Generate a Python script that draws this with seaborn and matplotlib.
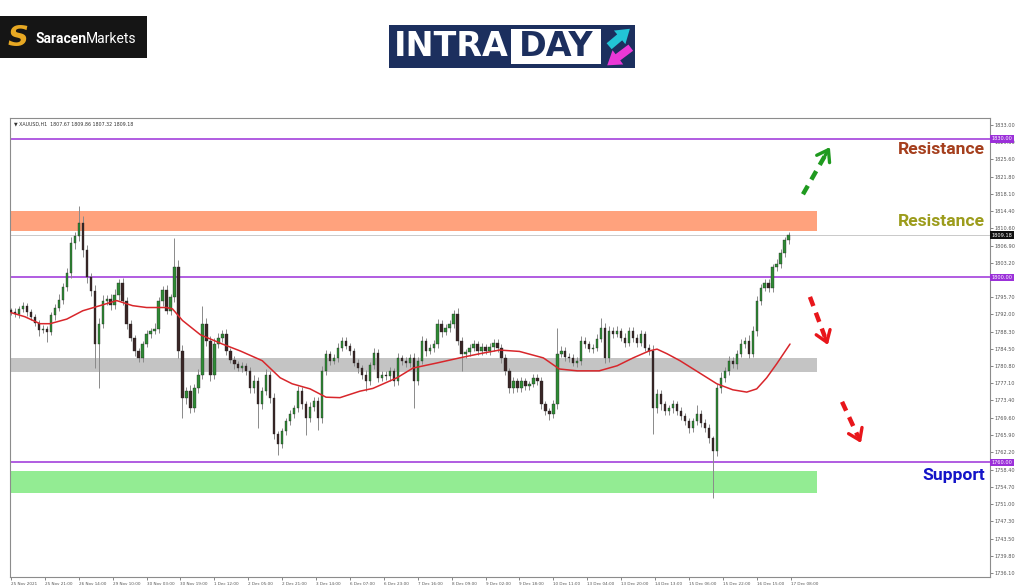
import matplotlib
matplotlib.use("Agg")
import matplotlib.pyplot as plt
from matplotlib.patches import Rectangle, FancyArrowPatch
import numpy as np
import pandas as pd
import seaborn as sns

W, H = 1024, 587

first_open = 1792.9
closes = [
    1792.5, 1792.0, 1793.2, 1793.9, 1792.6, 1791.4, 1790.2, 1788.6, 1788.9, 1788.2,
    1791.8, 1793.5, 1795.2, 1798.0, 1801.0, 1807.4, 1808.9, 1811.7, 1805.9, 1800.0,
    1797.0, 1785.6, 1790.0, 1795.0, 1795.4, 1794.0, 1796.2, 1798.7, 1795.0, 1790.0,
    1787.0, 1784.0, 1782.6, 1785.6, 1787.8, 1788.5, 1788.9, 1795.0, 1797.2, 1792.8,
    1795.7, 1802.2, 1784.1, 1773.9, 1775.4, 1771.7, 1776.0, 1779.0, 1790.0, 1786.3,
    1779.0, 1785.6, 1787.0, 1787.8, 1784.1, 1782.2, 1781.3, 1780.4, 1780.9, 1779.8,
    1776.0, 1777.6, 1772.6, 1775.4, 1779.0, 1774.0, 1766.1, 1763.9, 1766.7, 1768.9,
    1770.4, 1771.7, 1775.4, 1772.6, 1769.6, 1772.0, 1773.3, 1769.6, 1779.8, 1783.5,
    1781.9, 1782.6, 1784.8, 1786.3, 1785.2, 1784.1, 1781.6, 1780.4, 1779.0, 1777.6,
    1781.0, 1783.7, 1778.3, 1779.0, 1778.6, 1779.8, 1777.6, 1782.6, 1782.0, 1781.4,
    1782.6, 1777.6, 1782.0, 1786.3, 1784.1, 1784.8, 1785.6, 1790.0, 1788.2, 1789.1,
    1790.0, 1792.2, 1786.3, 1783.5, 1783.9, 1784.8, 1785.6, 1784.1, 1785.0, 1784.1,
    1784.9, 1785.9, 1784.8, 1782.6, 1779.8, 1776.0, 1777.6, 1776.0, 1777.6, 1776.5,
    1777.0, 1778.3, 1777.6, 1772.6, 1771.1, 1770.4, 1772.6, 1783.5, 1784.1, 1782.9,
    1782.6, 1781.6, 1782.0, 1786.3, 1785.6, 1784.5, 1784.8, 1786.7, 1789.1, 1782.6,
    1788.5, 1787.8, 1788.4, 1787.0, 1785.9, 1788.5, 1786.9, 1785.9, 1787.8, 1784.8,
    1784.1, 1771.7, 1774.8, 1772.6, 1771.1, 1771.7, 1772.6, 1771.1, 1770.0, 1768.9,
    1767.4, 1768.9, 1770.4, 1768.6, 1767.4, 1765.2, 1762.4, 1776.0, 1778.3, 1779.8,
    1782.0, 1781.3, 1783.5, 1785.6, 1786.3, 1783.5, 1788.5, 1795.0, 1797.8, 1798.7,
    1797.8, 1802.2, 1803.0, 1805.2, 1808.0, 1809.18,
]
wick_up = [
    0.6, 0.8, 0.7, 0.9, 0.5, 0.6, 0.7, 0.5, 0.9, 0.6,
    0.8, 0.7, 1.2, 0.9, 1.0, 1.3, 1.0, 3.7, 1.5, 1.2,
    1.0, 1.4, 1.2, 1.1, 0.8, 1.0, 1.3, 0.9, 1.1, 0.7,
    0.9, 0.6, 0.8, 0.7, 0.9, 0.6, 1.2, 0.8, 0.9, 1.1,
    0.8, 6.3, 1.5, 1.2, 1.0, 1.4, 0.9, 1.1, 3.9, 1.2,
    1.0, 1.3, 0.9, 0.8, 1.1, 0.7, 0.9, 0.6, 0.8, 0.7,
    0.9, 1.2, 0.8, 1.0, 1.3, 0.7, 0.9, 0.6, 0.8, 0.7,
    0.9, 0.8, 1.2, 0.9, 0.7, 1.0, 0.8, 0.9, 1.1, 0.8,
    0.7, 0.9, 1.0, 0.8, 0.9, 0.7, 0.6, 0.8, 0.7, 0.9,
    0.8, 1.1, 0.9, 0.7, 0.8, 0.9, 0.6, 1.0, 0.7, 0.8,
    0.9, 1.0, 0.8, 1.1, 0.7, 0.9, 0.8, 1.0, 0.8, 0.9,
    0.7, 0.8, 1.1, 0.9, 0.7, 0.8, 0.9, 0.6, 0.8, 0.7,
    0.9, 0.8, 0.7, 0.9, 0.8, 0.6, 0.9, 0.7, 0.8, 0.6,
    0.7, 0.9, 0.8, 0.9, 0.7, 0.6, 0.8, 5.6, 1.0, 0.8,
    0.7, 0.9, 0.8, 1.0, 0.8, 0.7, 0.9, 1.0, 2.2, 1.1,
    0.9, 0.8, 1.0, 0.7, 0.9, 0.8, 0.7, 0.9, 0.8, 0.7,
    0.8, 1.2, 1.0, 0.9, 0.7, 0.8, 0.9, 0.7, 0.8, 0.6,
    0.7, 0.8, 2.1, 0.9, 0.7, 0.8, 0.6, 1.0, 1.2, 0.9,
    1.1, 0.8, 0.9, 1.0, 0.8, 1.2, 1.1, 0.9, 0.8, 1.0,
    0.9, 0.8, 1.0, 0.9, 0.8, 0.7,
]
wick_dn = [
    0.7, 0.6, 0.8, 0.6, 0.9, 0.7, 0.8, 1.2, 0.6, 2.1,
    0.7, 0.9, 0.8, 1.0, 0.9, 1.1, 1.2, 1.0, 1.4, 1.3,
    1.1, 5.2, 9.6, 1.0, 0.9, 1.1, 0.8, 1.0, 0.9, 1.2,
    0.8, 1.0, 0.9, 0.8, 0.7, 1.0, 0.8, 0.9, 1.1, 0.8,
    0.9, 1.0, 1.6, 4.3, 1.2, 1.0, 0.9, 1.1, 1.0, 1.2,
    1.4, 0.9, 0.8, 1.0, 0.9, 0.8, 1.0, 0.7, 0.9, 0.8,
    1.1, 0.9, 5.2, 1.0, 0.8, 1.2, 1.0, 2.2, 0.9, 0.8,
    0.8, 0.7, 0.9, 1.0, 3.6, 0.8, 0.9, 2.6, 1.0, 0.9,
    0.8, 0.7, 0.9, 0.8, 0.7, 0.9, 0.8, 1.0, 0.9, 2.1,
    0.8, 0.9, 1.0, 0.8, 0.7, 0.9, 1.1, 0.8, 0.9, 0.7,
    0.8, 5.9, 0.9, 0.8, 1.0, 0.7, 0.9, 0.8, 1.0, 0.7,
    0.8, 0.9, 1.0, 3.7, 0.9, 0.8, 0.7, 0.9, 0.8, 0.7,
    0.8, 0.7, 0.9, 1.0, 0.8, 1.1, 0.9, 0.8, 0.7, 0.9,
    0.8, 0.7, 0.9, 1.0, 0.8, 1.2, 0.9, 1.0, 0.8, 0.9,
    0.8, 0.7, 0.9, 1.0, 0.8, 0.7, 0.9, 0.8, 0.7, 1.0,
    0.8, 0.9, 0.7, 0.8, 0.9, 0.7, 0.8, 0.9, 0.7, 0.8,
    0.9, 5.6, 1.0, 1.2, 0.9, 0.8, 1.0, 0.9, 0.8, 0.9,
    1.0, 0.8, 0.9, 1.0, 0.9, 1.1, 10.2, 1.0, 0.9, 1.0,
    0.8, 0.9, 1.0, 0.8, 0.9, 1.0, 0.8, 1.1, 0.9, 0.8,
    1.0, 0.9, 0.8, 0.9, 0.8, 0.7,
]

# moving average (red line), hourly bar index -> price
ma_bars = [0, 7, 14.5, 19.6, 28, 36, 44.6, 53, 61, 68, 78, 81, 86, 95, 106, 115,
           126, 135, 141, 150, 158, 165, 175, 181.5, 193.6, 201.6, 213.6, 225,
           235, 245, 255, 267, 275, 284, 295, 304, 312, 320, 324, 329, 335.5,
           345.5, 354, 362, 369, 374, 379, 384, 390.7]
ma_values = [1792.4, 1791.5, 1790.0, 1790.0, 1791.0, 1792.8, 1793.9, 1795.0, 1793.9,
             1793.5, 1793.5, 1793.2, 1790.7, 1787.6, 1785.6, 1784.1, 1782.0, 1778.3,
             1777.0, 1775.9, 1774.1, 1774.0, 1775.4, 1776.0, 1778.3, 1780.4, 1781.5,
             1782.6, 1783.5, 1784.3, 1784.0, 1782.6, 1780.2, 1779.8, 1779.8, 1780.9,
             1782.6, 1784.1, 1784.5, 1783.5, 1782.0, 1779.3, 1777.0, 1775.7, 1775.2,
             1775.9, 1778.3, 1781.3, 1785.6]

level_prices = [1830.0, 1800.0, 1760.0]
last_price = 1809.18
zone_low = [1810.1, 1779.6, 1753.4]
zone_high = [1814.4, 1782.6, 1758.2]
zone_colors = ["#ffa27d", "#c4c4c4", "#93ec93"]
zone_end = 404

ytick_values = [1736.10, 1739.80, 1743.50, 1747.30, 1751.00, 1754.70, 1758.40,
                1762.20, 1765.90, 1769.60, 1773.40, 1777.10, 1780.80, 1784.50,
                1788.30, 1792.00, 1795.70, 1803.20, 1806.90, 1810.60,
                1814.40, 1818.10, 1821.80, 1825.60, 1829.30, 1833.00]
xtick_labels = ["25 Nov 2021", "25 Nov 21:00", "26 Nov 14:00", "29 Nov 10:00",
                "30 Nov 03:00", "30 Nov 19:00", "1 Dec 12:00", "2 Dec 05:00",
                "2 Dec 21:00", "3 Dec 14:00", "6 Dec 07:00", "6 Dec 23:00",
                "7 Dec 16:00", "8 Dec 09:00", "9 Dec 02:00", "9 Dec 18:00",
                "10 Dec 11:00", "13 Dec 04:00", "13 Dec 20:00", "14 Dec 13:00",
                "15 Dec 06:00", "15 Dec 22:00", "16 Dec 15:00", "17 Dec 08:00"]

# annotation arrows: (bar, price) start -> tip
arrows = [("#1f9a1f", (397.2, 1818.0), (410.7, 1828.2)),
          ("#e8161b", (400.7, 1795.8), (409.7, 1785.4)),
          ("#e8161b", (416.8, 1773.1), (426.3, 1764.2))]
labels = [("Resistance", 1827.6, "#a53f1d"),
          ("Resistance", 1812.2, "#9c9c1c"),
          ("Support", 1757.1, "#1414c8")]

sns.set_style("white")

df = pd.DataFrame({"close": closes, "up": wick_up, "dn": wick_dn})
df["bar"] = np.arange(len(df)) * 2
df["open"] = [first_open] + closes[:-1]
df["top"] = df[["open", "close"]].max(axis=1)
df["bot"] = df[["open", "close"]].min(axis=1)
df["high"] = df["top"] + df["up"]
df["low"] = df["bot"] - df["dn"]
bull = df["close"] >= df["open"]

fig = plt.figure(figsize=(W / 100, H / 100), dpi=100)
fig.patch.set_facecolor("white")
ax = fig.add_axes([10 / W, 1 - 577 / H, 980 / W, 459 / H])
ax.set_facecolor("white")

# zones
for lo, hi, c in zip(zone_low, zone_high, zone_colors):
    ax.fill_between([-0.5, zone_end], lo, hi, color=c, lw=0, zorder=0.5)

ax.axhline(last_price, color="#c9c9c9", lw=0.7, zorder=0.6)
for lv in level_prices:
    ax.axhline(lv, color="#9b30d9", lw=1.1, zorder=1)

# candles
ax.vlines(df["bar"], df["low"], df["high"], color="#8a8a8a", lw=0.7, zorder=2)
body = (df["top"] - df["bot"]).clip(lower=0.2)
ax.bar(df["bar"], body, bottom=df["bot"], width=1.2,
       color=np.where(bull, "#2f8a35", "#3a2626"),
       edgecolor="#222222", linewidth=0.25, zorder=3)

sns.lineplot(x=ma_bars, y=ma_values, ax=ax, color="#d8262b", lw=1.1, zorder=4)

# arrows
for c, (x0, y0), (x1, y1) in arrows:
    fx = x0 + (x1 - x0) * 0.82
    fy = y0 + (y1 - y0) * 0.82
    ax.plot([x0, fx], [y0, fy], color=c, lw=3.2, ls=(0, (2.2, 1.6)),
            solid_capstyle="butt", dash_capstyle="butt", zorder=5)
    ax.annotate("", xy=(x1, y1), xytext=(fx, fy),
                arrowprops=dict(arrowstyle="->,head_length=0.55,head_width=0.38",
                                color=c, lw=2.4, shrinkA=0, shrinkB=0,
                                mutation_scale=14), zorder=5)

for txt, y, c in labels:
    ax.text(488.5, y, txt, ha="right", va="center", color=c, fontsize=12.6,
            fontweight="bold", family="Roboto", zorder=6)

ax.text(0.004, 0.992, "\u25bc XAUUSD,H1  1807.67 1809.86 1807.32 1809.18",
        transform=ax.transAxes, ha="left", va="top", fontsize=3.4, color="#333333")

ax.set_xlim(-0.5, 491)
ax.set_ylim(1735.2, 1834.5)

ax.yaxis.tick_right()
ax.set_yticks(ytick_values)
ax.set_yticklabels([f"{v:.2f}" for v in ytick_values])
ax.tick_params(axis="y", labelsize=3.6, length=2, width=0.5, colors="#555555",
               pad=1.5, left=False, right=True)
ax.set_xticks(np.arange(len(xtick_labels)) * 17)
ax.set_xticklabels(xtick_labels)
ax.tick_params(axis="x", labelsize=3.0, length=2.5, width=0.5, colors="#555555",
               pad=0.8, bottom=True)
for lab in ax.get_xticklabels():
    lab.set_ha("left")
for s in ax.spines.values():
    s.set_color("#8c8c8c")
    s.set_linewidth(0.8)
ax.set_xlabel("")
ax.set_ylabel("")

ytr = ax.get_yaxis_transform()
for lv in level_prices:
    ax.text(1.0015, lv, f"{lv:.2f}", transform=ytr, ha="left", va="center",
            fontsize=3.6, color="white", zorder=10, clip_on=False,
            bbox=dict(boxstyle="square,pad=0.25", fc="#9b30d9", ec="none"))
ax.text(1.0015, last_price, f"{last_price:.2f}", transform=ytr, ha="left",
        va="center", fontsize=3.6, color="white", zorder=10, clip_on=False,
        bbox=dict(boxstyle="square,pad=0.25", fc="#111111", ec="none"))


# logos (pixel coords from top-left)
def fxy(x, y):
    return x / W, 1 - y / H


fig.patches.append(Rectangle(fxy(0, 58), 147 / W, 42 / H, transform=fig.transFigure,
                             fc="#151515", ec="none"))
fig.text(*fxy(18, 38), "S", fontsize=21, fontweight="bold", style="italic",
         color="#e7a823", ha="center", va="center")
t1 = fig.text(*fxy(35, 39), "Saracen", fontsize=10, fontweight="bold",
              color="white", ha="left", va="center", family="Roboto")
fig.canvas.draw()
bb = t1.get_window_extent()
fig.text(bb.x1 / W, 1 - 39 / H, "Markets", fontsize=10, color="white",
         ha="left", va="center", family="Roboto")

fig.patches.append(Rectangle(fxy(389, 68), 246 / W, 43 / H, transform=fig.transFigure,
                             fc="#1c2f5e", ec="none"))
fig.patches.append(Rectangle(fxy(511, 64), 90 / W, 35 / H, transform=fig.transFigure,
                             fc="white", ec="none"))
fig.text(*fxy(394, 47), "INTRA", fontsize=24, fontweight="heavy", color="white",
         ha="left", va="center")
fig.text(*fxy(556, 47), "DAY", fontsize=24, fontweight="heavy", color="#1c2f5e",
         ha="center", va="center")
fig.patches.append(FancyArrowPatch(fxy(607, 48), fxy(632, 27), transform=fig.transFigure,
                                   arrowstyle="simple,head_width=1.6,head_length=1.2,tail_width=0.7",
                                   mutation_scale=8, color="#22c4d6", lw=0))
fig.patches.append(FancyArrowPatch(fxy(633, 46), fxy(605, 67), transform=fig.transFigure,
                                   arrowstyle="simple,head_width=1.6,head_length=1.2,tail_width=0.7",
                                   mutation_scale=8, color="#ea38d6", lw=0))

fig.savefig("out.png", dpi=100, facecolor="white")
